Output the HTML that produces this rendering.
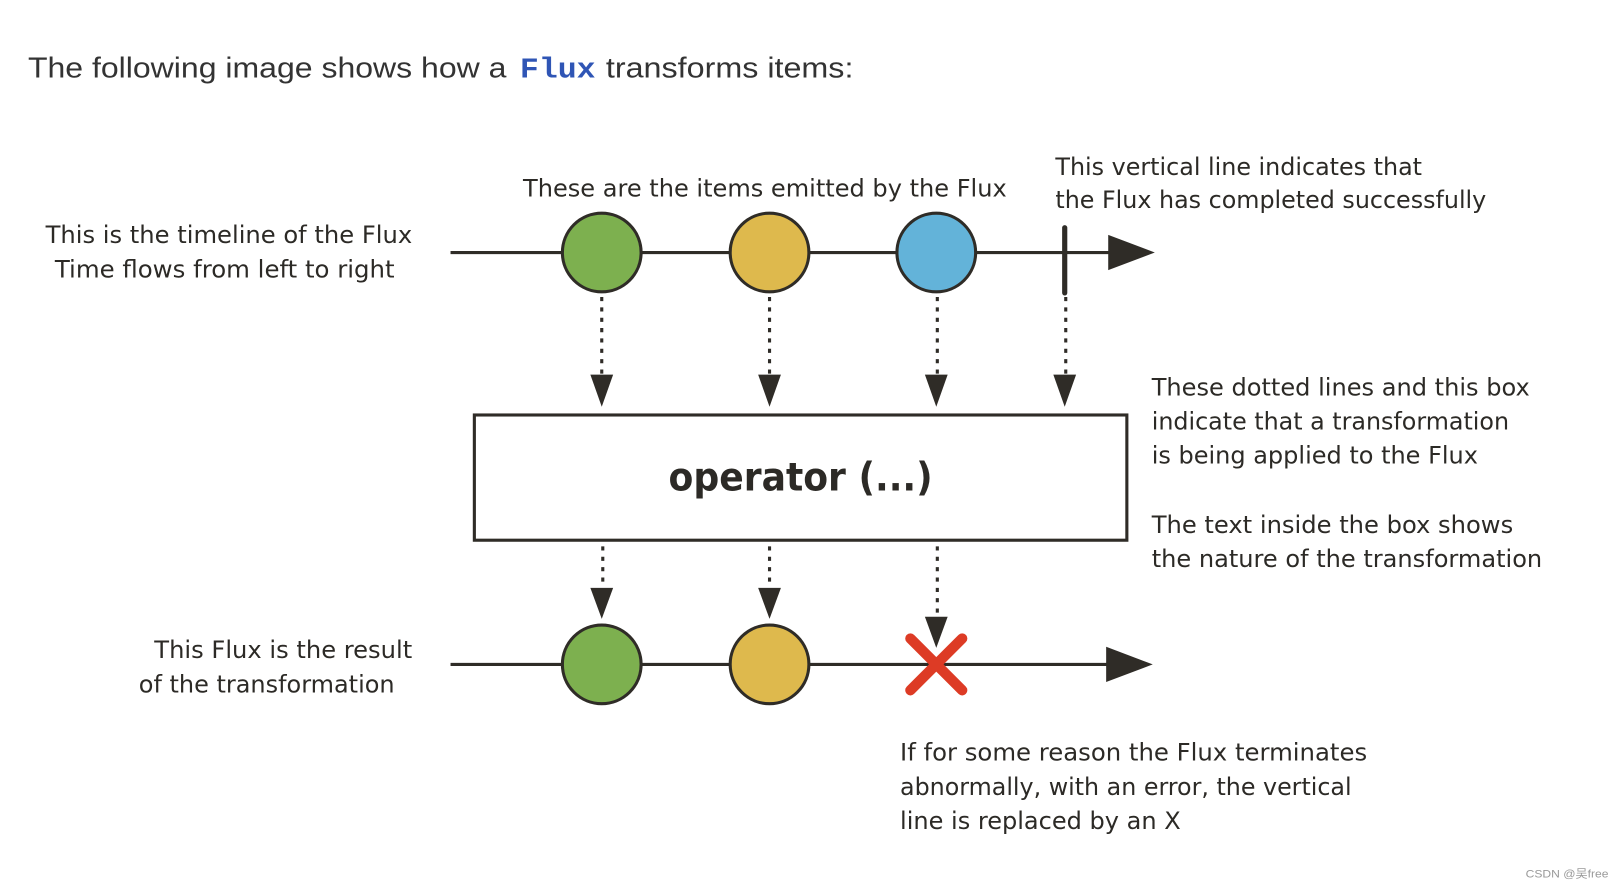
<!DOCTYPE html>
<html><head><meta charset="utf-8"><style>
html,body{margin:0;padding:0;background:#fff;width:1624px;height:890px;overflow:hidden}
svg{display:block}
.t{font-family:"DejaVu Sans","Liberation Sans",sans-serif;font-size:23px;fill:#2c2a26}
</style></head><body>
<svg width="1624" height="890" viewBox="0 0 1568 860" preserveAspectRatio="none" xmlns="http://www.w3.org/2000/svg">
<g font-family="Liberation Sans,sans-serif" font-size="28" fill="#333">
<text x="27" y="75" textLength="462" lengthAdjust="spacingAndGlyphs">The following image shows how a</text>
<text x="502" y="75" font-family="Liberation Mono,monospace" font-weight="bold" fill="#2f55b5" textLength="73" lengthAdjust="spacingAndGlyphs">Flux</text>
<text x="585" y="75" textLength="239" lengthAdjust="spacingAndGlyphs">transforms items:</text>
</g>
<g stroke="#2f2c27" stroke-width="3" fill="none">
<line x1="435" y1="244" x2="1075" y2="244"/>
<line x1="435" y1="642" x2="1072" y2="642"/>
<rect x="458" y="401" width="630" height="121" fill="#fff"/>
</g>
<line x1="1028" y1="220" x2="1028" y2="283" stroke="#2f2c27" stroke-width="5" stroke-linecap="round"/>
<g fill="#2f2c27">
<polygon points="1070,227 1115,244 1070,261"/>
<polygon points="1068,625 1113,642 1068,659"/>
<polygon points="570,362 592,362 581,393"/>
<polygon points="732,362 754,362 743,393"/>
<polygon points="893,362 915,362 904,393"/>
<polygon points="1017,362 1039,362 1028,393"/>
<polygon points="570,568 592,568 581,598"/>
<polygon points="732,568 754,568 743,598"/>
<polygon points="893,596 915,596 904,626"/>
</g>
<g stroke="#2f2c27" stroke-width="3" stroke-dasharray="4,6">
<line x1="581" y1="287" x2="581" y2="362"/>
<line x1="743" y1="287" x2="743" y2="362"/>
<line x1="905" y1="287" x2="905" y2="362"/>
<line x1="1029" y1="287" x2="1029" y2="362"/>
<line x1="582" y1="528" x2="582" y2="568"/>
<line x1="743" y1="528" x2="743" y2="568"/>
<line x1="905" y1="528" x2="905" y2="596"/>
</g>
<g stroke="#2f2c27" stroke-width="3">
<circle cx="581" cy="244" r="38" fill="#7db04f"/>
<circle cx="743" cy="244" r="38" fill="#deb94d"/>
<circle cx="904" cy="244" r="38" fill="#63b3d9"/>
<circle cx="581" cy="642" r="38" fill="#7db04f"/>
<circle cx="743" cy="642" r="38" fill="#deb94d"/>
</g>
<g stroke="#dd3b25" stroke-width="10" stroke-linecap="round">
<line x1="879" y1="617" x2="929" y2="667"/>
<line x1="929" y1="617" x2="879" y2="667"/>
</g>
<text x="773" y="474" text-anchor="middle" font-family="DejaVu Sans,sans-serif" font-weight="bold" font-size="38" fill="#2c2a26" textLength="255" lengthAdjust="spacingAndGlyphs">operator (...)</text>
<g class="t">
<text x="44" y="235" textLength="354" lengthAdjust="spacingAndGlyphs">This is the timeline of the Flux</text>
<text x="53" y="268" textLength="328" lengthAdjust="spacingAndGlyphs">Time flows from left to right</text>
<text x="505" y="190" textLength="467" lengthAdjust="spacingAndGlyphs">These are the items emitted by the Flux</text>
<text x="1019" y="169" textLength="354" lengthAdjust="spacingAndGlyphs">This vertical line indicates that</text>
<text x="1019" y="201" textLength="416" lengthAdjust="spacingAndGlyphs">the Flux has completed successfully</text>
<text x="1112" y="382" textLength="365" lengthAdjust="spacingAndGlyphs">These dotted lines and this box</text>
<text x="1112" y="415" textLength="345" lengthAdjust="spacingAndGlyphs">indicate that a transformation</text>
<text x="1112" y="448" textLength="315" lengthAdjust="spacingAndGlyphs">is being applied to the Flux</text>
<text x="1112" y="515" textLength="349" lengthAdjust="spacingAndGlyphs">The text inside the box shows</text>
<text x="1112" y="548" textLength="377" lengthAdjust="spacingAndGlyphs">the nature of the transformation</text>
<text x="149" y="636" textLength="249" lengthAdjust="spacingAndGlyphs">This Flux is the result</text>
<text x="134" y="669" textLength="247" lengthAdjust="spacingAndGlyphs">of the transformation</text>
<text x="869" y="735" textLength="451" lengthAdjust="spacingAndGlyphs">If for some reason the Flux terminates</text>
<text x="869" y="768" textLength="436" lengthAdjust="spacingAndGlyphs">abnormally, with an error, the vertical</text>
<text x="869" y="801" textLength="271" lengthAdjust="spacingAndGlyphs">line is replaced by an X</text>
</g>
<text x="1473" y="848" font-family="Liberation Sans,Noto Sans CJK SC,sans-serif" font-size="11" fill="#999" textLength="80" lengthAdjust="spacingAndGlyphs">CSDN @吴free</text>
</svg>
</body></html>
